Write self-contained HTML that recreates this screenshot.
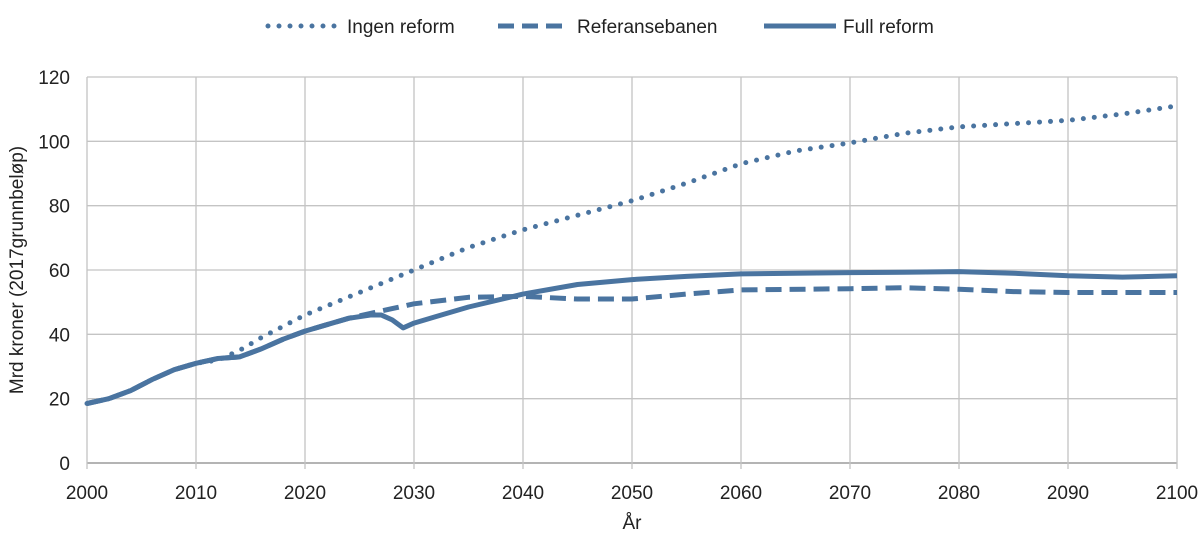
<!DOCTYPE html>
<html><head><meta charset="utf-8"><style>
body{margin:0;background:#fff}
svg text{font-family:"Liberation Sans",Arial,sans-serif;fill:#222}
</style></head><body>
<svg id="c" width="1200" height="550"></svg>
<script>
const years=[2000,2002,2004,2006,2008,2010,2012,2014,2016,2018,2020,2022,2024,2026,2027,2028,2029,2030,2032,2035,2040,2045,2050,2055,2060,2065,2070,2075,2080,2085,2090,2095,2100];
const fullReform=[18.5,20,22.5,26,29,31,32.5,33,35.5,38.5,41,43,45,46,46,44.5,42,43.5,45.5,48.5,52.5,55.5,57,58,58.8,59,59.2,59.3,59.5,59,58.2,57.8,58.2];
const refYears=[2000,2002,2004,2006,2008,2010,2012,2014,2016,2018,2020,2022,2024,2026,2028,2030,2035,2040,2045,2050,2055,2060,2070,2075,2080,2085,2090,2100];
const referansebanen=[18.5,20,22.5,26,29,31,32.5,33,35.5,38.5,41,43,45,46.5,48,49.5,51.5,51.8,51,51,52.5,53.8,54.2,54.5,54,53.3,53,53];
const ingenYears=[2000,2002,2004,2006,2008,2010,2012,2014,2016,2018,2020,2025,2030,2035,2040,2045,2050,2055,2060,2065,2070,2075,2080,2085,2090,2095,2100];
const ingenReform=[18.5,20,22.5,26,29,31,32,35,39,42.5,46,53,60,67,72.5,77,81.5,87,93,97,99.5,102.5,104.5,105.5,106.5,108.5,111];
const yTicks=[0,20,40,60,80,100,120];
const xTicks=[2000,2010,2020,2030,2040,2050,2060,2070,2080,2090,2100];

const NS="http://www.w3.org/2000/svg",svg=document.getElementById('c');
const X0=87,X1=1177,Y0=463,Y1=77;
const xs=v=>X0+(v-2000)/100*(X1-X0);
const ys=v=>Y0-v/120*(Y0-Y1);
function mk(t,a,p){const e=document.createElementNS(NS,t);for(const k in a)e.setAttribute(k,a[k]);(p||svg).appendChild(e);return e;}
const col="#4a74a0";
yTicks.forEach(v=>{
  const l=mk('line',{x1:X0,x2:X1,y1:ys(v),y2:ys(v),stroke:v===0?'#888':'#c4c4c4','stroke-width':1.3});
  
  
  const t=mk('text',{x:70,y:ys(v)+7,'text-anchor':'end','font-size':19});
  t.textContent=v;
  
  
});
xTicks.forEach(v=>{
  const l=mk('line',{x1:xs(v),x2:xs(v),y1:Y1,y2:Y0+6,stroke:'#c4c4c4','stroke-width':1.3});
  
  
  const t=mk('text',{x:xs(v),y:499,'text-anchor':'middle','font-size':19});
  t.textContent=v;
  
  
});
function series(xv,yv,dash,name){
  const d=xv.map((x,i)=>(i?'L':'M')+xs(x).toFixed(1)+','+ys(yv[i]).toFixed(1)).join('');
  const a={d:d,fill:'none',stroke:col,'stroke-width':5,'stroke-linejoin':'round','stroke-linecap':dash==='dot'?'round':'butt'};
  if(dash==='dot')a['stroke-dasharray']='0 11';
  else if(dash)a['stroke-dasharray']=dash;
  const p=mk('path',a);
  
  
}
series(ingenYears,ingenReform,'dot','series-ingen-reform');
series(refYears,referansebanen,'16 8','series-referansebanen');
series(years,fullReform,null,'series-full-reform');
// legend
const leg=[[268,'dot','Ingen reform','legend-ingen-reform'],[498,'16 8','Referansebanen','legend-referansebanen'],[764,null,'Full reform','legend-full-reform']];
leg.forEach(([x,dash,label,name])=>{
  const g=mk('g',{});
  
  
  const a={x1:x,x2:x+72,y1:26,y2:26,stroke:col,'stroke-width':5,'stroke-linecap':dash==='dot'?'round':'butt'};
  if(dash==='dot')a['stroke-dasharray']='0 11';else if(dash)a['stroke-dasharray']=dash;
  mk('line',a,g);
  const t=mk('text',{x:x+79,y:33,'font-size':19},g);t.textContent=label;
});
const xt=mk('text',{x:632,y:529,'text-anchor':'middle','font-size':19});xt.textContent='År';


const yt=mk('text',{x:0,y:0,'text-anchor':'middle','font-size':19,transform:'translate(23,270) rotate(-90)'});yt.textContent='Mrd kroner (2017grunnbeløp)';


</script>
</body></html>
